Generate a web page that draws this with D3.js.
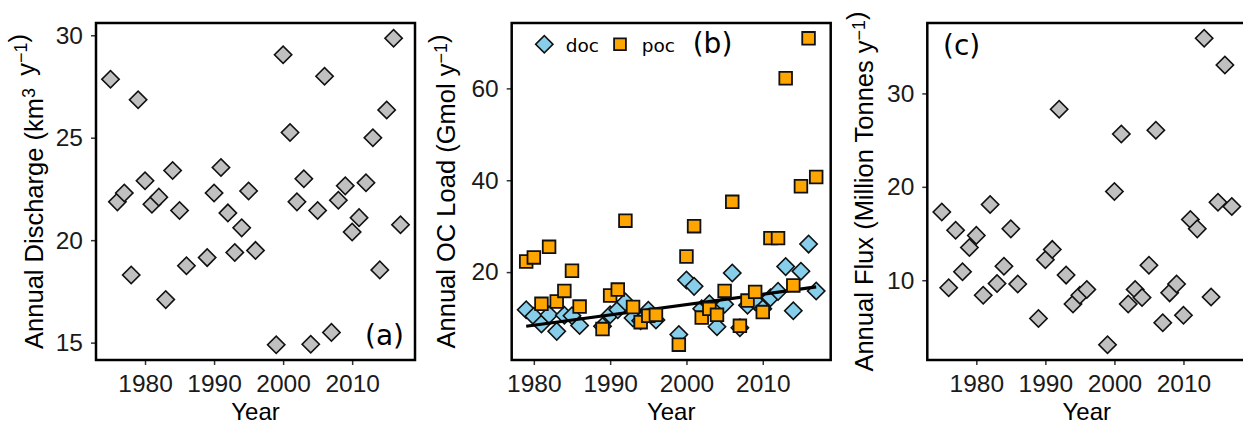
<!DOCTYPE html>
<html>
<head>
<meta charset="utf-8">
<script src="https://cdn.jsdelivr.net/npm/d3@7"></script>
<style>
  body { margin: 0; background: #fff; }
  svg { display: block; }
  .tick text { font-family: "Liberation Sans", Arial, sans-serif; font-size: 24.5px; fill: #1a1a1a; }
  .tick line { stroke: #333; stroke-width: 1.5; }
  .title { font-family: "Liberation Sans", Arial, sans-serif; font-size: 24px; fill: #000; }
  .ytitle { font-size: 25.5px; }
  .tag { font-family: "DejaVu Sans", sans-serif; font-size: 28px; fill: #000; }
  .leg { font-family: "DejaVu Sans", sans-serif; font-size: 18.5px; fill: #000; }
</style>
</head>
<body>
<svg width="1243" height="427"></svg>
<script>
// annual discharge and sediment flux (panels a, c)
const yearsA = [1975, 1976, 1977, 1978, 1979, 1980, 1981, 1982, 1983, 1984, 1985, 1986,
  1989, 1990, 1991, 1992, 1993, 1994, 1995, 1996,
  1999, 2000, 2001, 2002, 2003, 2004, 2005, 2006, 2007, 2008, 2009, 2010, 2011, 2012, 2013, 2014, 2015, 2016, 2017];
const discharge = [27.85, 21.87, 22.3, 18.3, 26.85, 22.9, 21.75, 22.1, 17.1, 23.4, 21.45, 18.75,
  19.15, 22.3, 23.55, 21.33, 19.4, 20.6, 22.4, 19.5,
  14.9, 29.05, 25.25, 21.87, 23.0, 14.92, 21.45, 28.0, 15.5, 21.95, 22.65, 20.4, 21.1, 22.8, 25.0, 18.55, 26.35, 29.85, 20.75];
const flux = [17.3, 9.2, 15.35, 10.9, 13.5, 14.8, 8.4, 18.1, 9.65, 11.5, 15.5, 9.6,
  5.9, 12.2, 13.3, 28.3, 10.55, 7.45, 8.4, 9.0,
  3.1, 19.5, 25.65, 7.45, 9.0, 8.15, 11.6, 26.05, 5.45, 8.65, 9.6, 6.25, 16.5, 15.5, 35.9, 8.2, 18.35, 33.05, 17.9];

// organic carbon loads (panel b)
const yearsB = [1979, 1980, 1981, 1982, 1983, 1984, 1985, 1986,
  1989, 1990, 1991, 1992, 1993, 1994, 1995, 1996,
  1999, 2000, 2001, 2002, 2003, 2004, 2005, 2006, 2007, 2008, 2009, 2010, 2011, 2012, 2013, 2014, 2015, 2016, 2017];
const doc = [11.8, 10.4, 8.7, 10.7, 7.1, 10.6, 10.5, 8.4,
  8.2, 10.7, 11.8, 13.5, 10.0, 9.4, 11.7, 9.6,
  6.4, 18.3, 16.9, 12.0, 13.1, 8.1, 13.0, 19.8, 7.9, 12.8, 13.6, 12.0, 14.4, 15.8, 21.2, 11.6, 20.2, 26.1, 15.9];
const poc = [22.3, 23.2, 13.1, 25.5, 13.6, 15.9, 20.3, 12.5,
  7.6, 14.9, 16.2, 31.2, 12.4, 9.1, 10.5, 10.7,
  4.2, 23.4, 30.0, 10.1, 12.0, 10.7, 15.9, 35.3, 8.3, 13.8, 15.7, 11.3, 27.4, 27.4, 62.2, 17.1, 38.7, 70.9, 40.7];

const xTicks = [1980, 1990, 2000, 2010];

const svg = d3.select("svg");
const plotTop = 23, plotBottom = 360, pw = 319;

const grey = "#c0c0c0", blue = "#87ceeb", orange = "#ffa500";
const diamond = d3.symbol(d3.symbolSquare, 150)();
const square = d3.symbol(d3.symbolSquare, 160)();

// ggplot style 5% padding
function padded(ext) {
  const p = (ext[1] - ext[0]) * 0.05;
  return [ext[0] - p, ext[1] + p];
}

function panel(left, years, values, yTicks, titleX, titleParts) {
  const x = d3.scaleLinear().domain(padded(d3.extent(years))).range([left, left + pw]);
  const y = d3.scaleLinear().domain(padded(d3.extent(values))).range([plotBottom, plotTop]);

  const g = svg.append("g");

  g.append("g")
    .attr("transform", `translate(0,${plotBottom})`)
    .call(d3.axisBottom(x).tickValues(xTicks).tickFormat(d3.format("d")).tickSize(5).tickPadding(10))
    .call(a => a.select(".domain").remove());

  g.append("g")
    .attr("transform", `translate(${left},0)`)
    .call(d3.axisLeft(y).tickValues(yTicks).tickSize(5).tickPadding(8))
    .call(a => a.select(".domain").remove());

  g.append("text").attr("class", "title")
    .attr("x", left + pw / 2).attr("y", 420)
    .attr("text-anchor", "middle").text("Year");

  const t = g.append("text").attr("class", "title ytitle")
    .attr("transform", `translate(${titleX},${(plotTop + plotBottom) / 2}) rotate(-90)`)
    .attr("text-anchor", "middle");
  titleParts.forEach(p => {
    if (p.sup) {
      t.append("tspan").attr("dy", "-0.45em").attr("font-size", "18px").text(p.sup);
      t.append("tspan").attr("dy", "0.45em").text("");
    } else {
      t.append("tspan").text(p.t);
    }
  });

  g.append("rect")
    .attr("x", left).attr("y", plotTop)
    .attr("width", pw).attr("height", plotBottom - plotTop)
    .attr("fill", "none").attr("stroke", "#000").attr("stroke-width", 2.5);

  return { g, x, y };
}

function diamonds(p, years, values, fill) {
  p.g.selectAll(null)
    .data(years.map((yr, i) => [yr, values[i]]))
    .enter().append("path")
    .attr("d", diamond)
    .attr("transform", d => `translate(${p.x(d[0])},${p.y(d[1])}) rotate(45)`)
    .attr("fill", fill).attr("stroke", "#111").attr("stroke-width", 1.6);
}

// (a)
const pa = panel(96, yearsA, discharge, [15, 20, 25, 30], 43,
  [{ t: "Annual Discharge (km" }, { sup: "3" }, { t: "\u2009 y" }, { sup: "\u22121" }, { t: ")" }]);
diamonds(pa, yearsA, discharge, grey);
pa.g.append("text").attr("class", "tag").attr("x", 404).attr("y", 345)
  .attr("text-anchor", "end").text("(a)");

// (b)
const pb = panel(511.7, yearsB, doc.concat(poc), [20, 40, 60], 455,
  [{ t: "Annual OC Load (Gmol y" }, { sup: "\u22121" }, { t: ")" }]);
diamonds(pb, yearsB, doc, blue);

// linear trend of doc
const mx = d3.mean(yearsB), my = d3.mean(doc);
const slope = d3.sum(yearsB, (yr, i) => (yr - mx) * (doc[i] - my)) / d3.sum(yearsB, yr => (yr - mx) ** 2);
const fit = d3.extent(yearsB).map(yr => [yr, my + slope * (yr - mx)]);
pb.g.append("path")
  .attr("d", d3.line().x(d => pb.x(d[0])).y(d => pb.y(d[1]))(fit))
  .attr("fill", "none").attr("stroke", "#000").attr("stroke-width", 3.2);

pb.g.selectAll(null)
  .data(yearsB.map((yr, i) => [yr, poc[i]]))
  .enter().append("path")
  .attr("d", square)
  .attr("transform", d => `translate(${pb.x(d[0])},${pb.y(d[1])})`)
  .attr("fill", orange).attr("stroke", "#111").attr("stroke-width", 1.8);

// legend
const leg = pb.g.append("g");
leg.append("path").attr("d", diamond).attr("transform", "translate(544.3,44.3) rotate(45)")
  .attr("fill", blue).attr("stroke", "#111").attr("stroke-width", 1.6);
leg.append("text").attr("class", "leg").attr("x", 565.7).attr("y", 51.5).text("doc");
leg.append("path").attr("d", d3.symbol(d3.symbolSquare, 140)()).attr("transform", "translate(620,44.3)")
  .attr("fill", orange).attr("stroke", "#111").attr("stroke-width", 1.8);
leg.append("text").attr("class", "leg").attr("x", 641.7).attr("y", 51.5).text("poc");
pb.g.append("text").attr("class", "tag").attr("x", 712.5).attr("y", 53)
  .attr("text-anchor", "middle").text("(b)");

// (c)
const pc = panel(927.3, yearsA, flux, [10, 20, 30], 873,
  [{ t: "Annual Flux (Million Tonnes y" }, { sup: "\u22121" }, { t: ")" }]);
diamonds(pc, yearsA, flux, grey);
pc.g.append("text").attr("class", "tag").attr("x", 943).attr("y", 55).text("(c)");
</script>
</body>
</html>
